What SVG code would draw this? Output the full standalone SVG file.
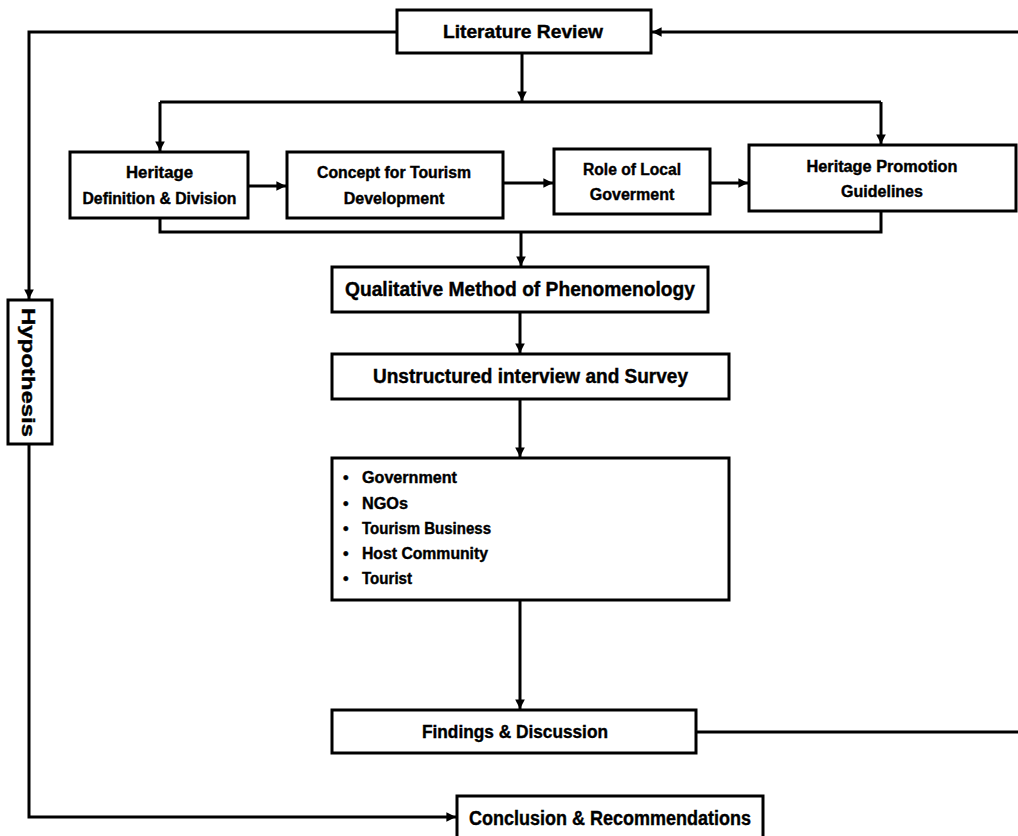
<svg xmlns="http://www.w3.org/2000/svg" width="1018" height="836" viewBox="0 0 1018 836">
<defs>
<marker id="arr" viewBox="0 0 10 10" refX="10" refY="5" markerWidth="3.2" markerHeight="3.2" orient="auto" markerUnits="strokeWidth">
<path d="M0,0 L10,5 L0,10 z" fill="#000"/>
</marker>
<style>
.box{fill:#fff;stroke:#000;stroke-width:3}
.t{font-family:"Liberation Sans",Arial,sans-serif;font-weight:bold;fill:#000;stroke:#000;stroke-width:0.4;text-anchor:middle}
.l{font-family:"Liberation Sans",Arial,sans-serif;font-weight:bold;fill:#000;stroke:#000;stroke-width:0.4}
.c{fill:none;stroke:#000;stroke-width:3}
.ca{fill:none;stroke:#000;stroke-width:3;marker-end:url(#arr)}
</style>
</defs>
<rect width="1018" height="836" fill="#fff"/>
<g id="connectors">
<path class="ca" d="M397,32 H29 V299"/>
<path class="ca" d="M29,444 V817 H456"/>
<path class="ca" d="M696,732 H1021 V32 H652"/>
<path class="ca" d="M522,53 V101"/>
<path class="c" d="M160,102 H881"/>
<path class="ca" d="M160,102 V151"/>
<path class="ca" d="M881,102 V144"/>
<path class="ca" d="M248,186 H286"/>
<path class="ca" d="M503,183 H553"/>
<path class="ca" d="M710,183 H748"/>
<path class="c" d="M160,218 V232 H881 V211"/>
<path class="ca" d="M521,232 V266"/>
<path class="ca" d="M520,312 V353"/>
<path class="ca" d="M520,399 V457"/>
<path class="ca" d="M520,600 V709"/>
</g>
<g id="literature-review">
<rect class="box" x="397" y="10" width="254" height="43"/>
<text class="t" x="523" y="38" font-size="18" textLength="160" lengthAdjust="spacingAndGlyphs">Literature Review</text>
</g>
<g id="heritage-definition">
<rect class="box" x="70" y="152" width="178" height="66"/>
<text class="t" x="159.5" y="178" font-size="16" textLength="67" lengthAdjust="spacingAndGlyphs">Heritage</text>
<text class="t" x="159.5" y="204" font-size="16" textLength="154" lengthAdjust="spacingAndGlyphs">Definition &amp; Division</text>
</g>
<g id="concept-tourism">
<rect class="box" x="287" y="152" width="216" height="66"/>
<text class="t" x="394" y="178" font-size="16" textLength="154" lengthAdjust="spacingAndGlyphs">Concept for Tourism</text>
<text class="t" x="394" y="204" font-size="16">Development</text>
</g>
<g id="role-local-government">
<rect class="box" x="554" y="149" width="156" height="65"/>
<text class="t" x="632" y="175" font-size="16" textLength="98" lengthAdjust="spacingAndGlyphs">Role of Local</text>
<text class="t" x="632" y="200" font-size="16">Goverment</text>
</g>
<g id="heritage-promotion">
<rect class="box" x="749" y="145" width="267" height="66"/>
<text class="t" x="882" y="172" font-size="16" textLength="151" lengthAdjust="spacingAndGlyphs">Heritage Promotion</text>
<text class="t" x="882" y="197" font-size="16">Guidelines</text>
</g>
<g id="qualitative-method">
<rect class="box" x="332" y="267" width="376" height="45"/>
<text class="t" x="520" y="296" font-size="20" textLength="350" lengthAdjust="spacingAndGlyphs">Qualitative Method of Phenomenology</text>
</g>
<g id="unstructured-interview">
<rect class="box" x="332" y="354" width="397" height="45"/>
<text class="t" x="530.5" y="383" font-size="20" textLength="315" lengthAdjust="spacingAndGlyphs">Unstructured interview and Survey</text>
</g>
<g id="stakeholders">
<rect class="box" x="332" y="458" width="397" height="142"/>
<g class="l" font-size="16">
<text x="343" y="483">•</text><text x="362" y="483" textLength="95" lengthAdjust="spacingAndGlyphs">Government</text>
<text x="343" y="509">•</text><text x="362" y="509" textLength="46" lengthAdjust="spacingAndGlyphs">NGOs</text>
<text x="343" y="534">•</text><text x="362" y="534" textLength="129" lengthAdjust="spacingAndGlyphs">Tourism Business</text>
<text x="343" y="559">•</text><text x="362" y="559" textLength="126" lengthAdjust="spacingAndGlyphs">Host Community</text>
<text x="343" y="584">•</text><text x="362" y="584" textLength="50" lengthAdjust="spacingAndGlyphs">Tourist</text>
</g>
</g>
<g id="hypothesis">
<rect class="box" x="8" y="300" width="44" height="144"/>
<text class="t" transform="translate(22,372.5) rotate(90)" x="0" y="0" font-size="19" textLength="129" lengthAdjust="spacingAndGlyphs">Hypothesis</text>
</g>
<g id="findings-discussion">
<rect class="box" x="332" y="710" width="364" height="43"/>
<text class="t" x="515" y="738" font-size="18" textLength="186" lengthAdjust="spacingAndGlyphs">Findings &amp; Discussion</text>
</g>
<g id="conclusion">
<rect class="box" x="457" y="796" width="306" height="50"/>
<text class="t" x="610" y="825" font-size="20" textLength="282" lengthAdjust="spacingAndGlyphs">Conclusion &amp; Recommendations</text>
</g>
</svg>
